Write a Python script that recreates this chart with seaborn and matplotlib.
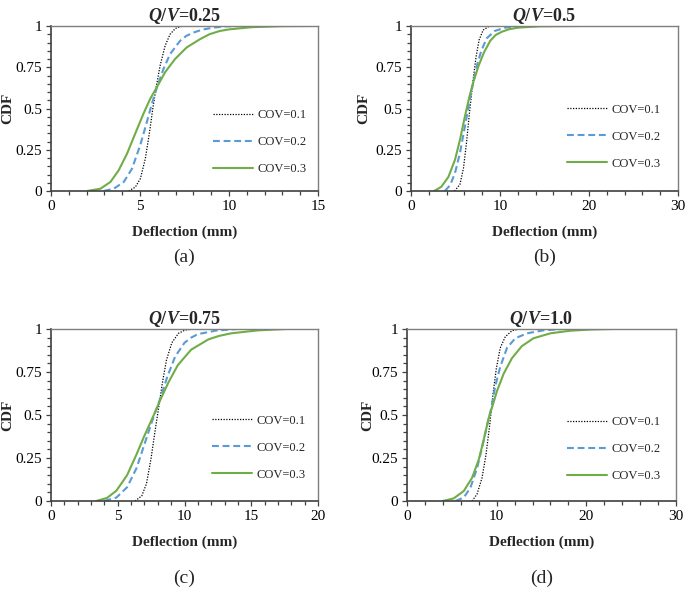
import seaborn as sns
import pandas as pd
import matplotlib.pyplot as plt
from matplotlib.ticker import MultipleLocator, FuncFormatter

# curve points: deflection (mm) and CDF
# panel (a) Q/V=0.25
a_x_01 = [4.37, 4.74, 5.02, 5.3, 5.54, 5.72, 5.91, 6.13, 6.41, 6.69, 6.9, 7.06, 7.44]
a_y_01 = [0.0, 0.024, 0.075, 0.196, 0.36, 0.50, 0.63, 0.76, 0.88, 0.95, 0.975, 0.99, 1.0]
a_x_02 = [2.97, 3.53, 4.09, 4.55, 5.02, 5.39, 5.67, 5.99, 6.32, 6.69, 7.25, 7.6, 8.0, 8.5, 9.11, 9.86, 11.0]
a_y_02 = [0.0, 0.014, 0.055, 0.135, 0.28, 0.42, 0.53, 0.64, 0.74, 0.83, 0.91, 0.94, 0.96, 0.978, 0.99, 0.998, 1.0]
a_x_03 = [2.04, 2.78, 3.34, 3.8, 4.27, 4.74, 5.2, 5.58, 5.95, 6.41, 6.97, 7.62, 8.37, 8.9, 9.49, 10.04, 11.3, 13.0, 14.6]
a_y_03 = [0.0, 0.014, 0.055, 0.125, 0.226, 0.35, 0.47, 0.56, 0.63, 0.72, 0.80, 0.87, 0.92, 0.95, 0.97, 0.98, 0.993, 0.999, 1.0]

# panel (b) Q/V=0.5
b_x_01 = [4.9, 5.5, 5.9, 6.25, 6.6, 6.95, 7.3, 7.65, 8.1, 8.7, 9.4]
b_y_01 = [0.0, 0.04, 0.14, 0.30, 0.49, 0.66, 0.81, 0.915, 0.975, 0.996, 1.0]
b_x_02 = [3.8, 4.4, 4.95, 5.5, 6.05, 6.6, 7.0, 7.4, 7.9, 8.5, 9.4, 10.6, 12.4]
b_y_02 = [0.0, 0.035, 0.11, 0.23, 0.39, 0.55, 0.66, 0.76, 0.85, 0.925, 0.97, 0.99, 1.0]
b_x_03 = [2.6, 3.4, 4.2, 4.95, 5.5, 6.05, 6.6, 7.0, 7.6, 8.2, 8.9, 9.5, 10.2, 11.0, 12.0, 14.5, 19.1]
b_y_03 = [0.0, 0.025, 0.085, 0.19, 0.31, 0.45, 0.58, 0.66, 0.76, 0.84, 0.91, 0.945, 0.965, 0.98, 0.99, 0.998, 1.0]

# panel (c) Q/V=0.75
c_x_01 = [6.3, 6.8, 7.15, 7.5, 7.8, 8.1, 8.35, 8.65, 9.05, 9.55, 10.05, 10.7]
c_y_01 = [0.0, 0.03, 0.10, 0.25, 0.41, 0.56, 0.69, 0.82, 0.92, 0.975, 0.994, 1.0]
c_x_02 = [4.0, 4.9, 5.7, 6.4, 7.0, 7.6, 8.2, 8.7, 9.3, 10.0, 10.5, 11.0, 12.3, 13.9]
c_y_02 = [0.0, 0.02, 0.08, 0.19, 0.33, 0.47, 0.60, 0.72, 0.84, 0.92, 0.95, 0.97, 0.99, 1.0]
c_x_03 = [3.4, 4.2, 4.9, 5.7, 6.4, 7.0, 7.7, 8.2, 8.8, 9.5, 10.5, 11.8, 12.6, 13.5, 15.5, 17.6]
c_y_03 = [0.0, 0.018, 0.06, 0.15, 0.27, 0.38, 0.50, 0.59, 0.69, 0.79, 0.88, 0.94, 0.96, 0.975, 0.992, 1.0]

# panel (d) Q/V=1.0
d_x_01 = [7.26, 7.81, 8.37, 8.81, 9.22, 9.59, 9.96, 10.4, 10.96, 11.7, 12.6]
d_y_01 = [0.0, 0.04, 0.135, 0.27, 0.44, 0.62, 0.77, 0.89, 0.955, 0.99, 1.0]
d_x_02 = [5.4, 6.33, 7.07, 7.81, 8.37, 8.93, 9.4, 9.85, 10.4, 11.15, 12.07, 13.4, 15.2, 17.3]
d_y_02 = [0.0, 0.02, 0.077, 0.19, 0.31, 0.44, 0.54, 0.67, 0.78, 0.89, 0.946, 0.975, 0.992, 1.0]
d_x_03 = [4.0, 5.2, 6.33, 7.26, 8.0, 8.56, 9.1, 9.4, 10.04, 10.78, 11.7, 12.8, 14.1, 16.0, 18.2, 20.5, 22.9]
d_y_03 = [0.0, 0.015, 0.058, 0.135, 0.24, 0.357, 0.48, 0.53, 0.64, 0.74, 0.83, 0.90, 0.946, 0.975, 0.99, 0.997, 1.0]

cov_labels = ["COV=0.1", "COV=0.2", "COV=0.3"]
titles = ["0.25", "0.5", "0.75", "1.0"]
panel_tags = ["(a)", "(b)", "(c)", "(d)"]
x_max = [15, 30, 20, 30]
x_major = [5, 10, 5, 10]

panels = [
    [(a_x_01, a_y_01), (a_x_02, a_y_02), (a_x_03, a_y_03)],
    [(b_x_01, b_y_01), (b_x_02, b_y_02), (b_x_03, b_y_03)],
    [(c_x_01, c_y_01), (c_x_02, c_y_02), (c_x_03, c_y_03)],
    [(d_x_01, d_y_01), (d_x_02, d_y_02), (d_x_03, d_y_03)],
]

sns.set_style("ticks")
plt.rcParams["font.family"] = ["Liberation Serif", "DejaVu Serif"]
plt.rcParams["mathtext.fontset"] = "custom"
plt.rcParams["mathtext.it"] = "Liberation Serif:italic:bold"
plt.rcParams["mathtext.rm"] = "Liberation Serif:bold"

colors = ["black", "#5B9BD5", "#70AD47"]
styles = [(0, (1, 1.2)), (0, (3.3, 1.8)), "-"]
widths = [0.9, 1.5, 1.5]

fig = plt.figure(figsize=(6.85, 5.89), dpi=100)
W, H = 685, 589
# axes boxes in pixels: left, top, right, bottom
boxes = [(51, 26, 318, 191), (411, 26, 678, 191), (51, 329, 318, 501), (407, 329, 676, 501)]
legend_x = [0.606, 0.584, 0.604, 0.593]
legend_y = [0.297, 0.33, 0.31, 0.30]
ylabel_x = [-0.137, -0.152, -0.137, -0.123]
tag_offset = [66, 66, 77, 77]

for i, (l, t, r, b) in enumerate(boxes):
    ax = fig.add_axes([l / W, 1 - b / H, (r - l) / W, (b - t) / H])
    for j, (xs, ys) in enumerate(panels[i]):
        df = pd.DataFrame({"Deflection": xs, "CDF": ys})
        sns.lineplot(data=df, x="Deflection", y="CDF", ax=ax, color=colors[j],
                     linestyle=styles[j], linewidth=widths[j], label=cov_labels[j],
                     errorbar=None)
    ax.set_xlim(0, x_max[i])
    ax.set_ylim(0, 1)
    ax.xaxis.set_major_locator(MultipleLocator(x_major[i]))
    ax.xaxis.set_minor_locator(MultipleLocator(x_major[i] / 5))
    ax.yaxis.set_major_locator(MultipleLocator(0.25))
    ax.yaxis.set_minor_locator(MultipleLocator(0.05))
    ax.yaxis.set_major_formatter(FuncFormatter(lambda v, p: "%g" % v))
    ax.tick_params(which="both", direction="out", colors="#404040", labelcolor="black",
                   width=0.9, labelsize=11, top=False, right=False)
    ax.tick_params(which="major", length=3.5, pad=3)
    ax.tick_params(which="minor", length=3)
    for s in ["left", "bottom"]:
        ax.spines[s].set_color("#404040")
        ax.spines[s].set_linewidth(1.2)
    for s in ["top", "right"]:
        ax.spines[s].set_color("#7f7f7f")
        ax.spines[s].set_linewidth(1.0)
    ax.set_xlabel("Deflection (mm)", fontsize=11, fontweight="bold", labelpad=9)
    ax.set_ylabel("CDF", fontsize=11, fontweight="bold")
    ax.yaxis.set_label_coords(ylabel_x[i], 0.5)
    ax.set_title(r"$\mathit{Q/V}$=" + titles[i], fontsize=13, fontweight="bold", pad=2)
    ax.legend(loc="center left", bbox_to_anchor=(legend_x[i], legend_y[i]), frameon=False,
              fontsize=9, handlelength=3.2, handletextpad=0.37, labelspacing=1.2,
              borderpad=0, borderaxespad=0)
    fig.text((l + r) / 2 / W, 1 - (b + tag_offset[i]) / H, panel_tags[i],
             ha="center", va="center", fontsize=14)

fig.savefig("out.png", dpi=100)
